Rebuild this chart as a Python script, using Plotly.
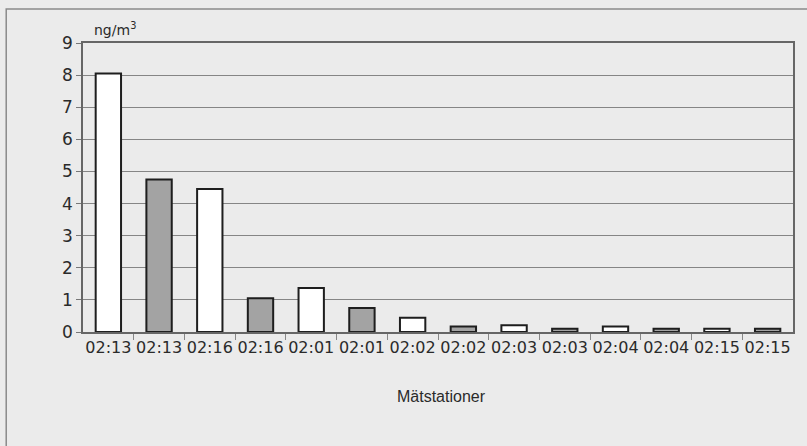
import plotly.graph_objects as go

STATIONS = ["02:13", "02:13", "02:16", "02:16", "02:01", "02:01", "02:02",
            "02:02", "02:03", "02:03", "02:04", "02:04", "02:15", "02:15"]
VALUES = [8.05, 4.75, 4.45, 1.05, 1.37, 0.75, 0.44,
          0.17, 0.21, 0.1, 0.17, 0.1, 0.1, 0.1]
Y_TICKS = [0, 1, 2, 3, 4, 5, 6, 7, 8, 9]

BG = "#ebebeb"
GRID = "#858585"
TEXT = "#2a2a2a"
FILLS = ["#ffffff", "#a3a3a3"]

W, H = 807, 446
L, R, T, B = 83, 12, 43, 114
PH = H - T - B
PW = W - L - R


def py(p):
    # pixel row -> paper y
    return (H - B - p) / PH


def px(p):
    return (p - L) / PW


idx = list(range(len(STATIONS)))
colors = [FILLS[i % 2] for i in idx]

fig = go.Figure(go.Bar(
    x=idx, y=VALUES, width=0.5,
    marker=dict(color=colors, line=dict(color="#1e1e1e", width=2)),
    hovertemplate="%{y:.2f} ng/m³<extra></extra>",
))

fig.update_layout(
    width=W, height=H,
    paper_bgcolor=BG, plot_bgcolor=BG,
    margin=dict(l=L, r=R, t=T, b=B),
    showlegend=False,
    font=dict(family="DejaVu Sans", color=TEXT),
    xaxis=dict(
        range=[-0.5, len(STATIONS) - 0.5],
        tickmode="array", tickvals=idx, ticktext=STATIONS,
        ticks="", tickfont=dict(size=16, color=TEXT),
        showgrid=False, zeroline=False,
        showline=True, linecolor="#666", linewidth=1.5, mirror=True,
        minor=dict(tickmode="array", tickvals=[i + 0.5 for i in idx[:-1]],
                   ticks="outside", ticklen=6, tickcolor="#888", showgrid=False),
    ),
    yaxis=dict(
        range=[0, 9], tickmode="array", tickvals=Y_TICKS,
        ticks="outside", ticklen=5, tickcolor="#777",
        tickfont=dict(size=17, color=TEXT),
        showgrid=True, gridcolor=GRID, gridwidth=1,
        zeroline=False,
        showline=True, linecolor="#666", linewidth=1.5, mirror=True,
    ),
)

# unit label and axis title
fig.add_annotation(text="ng/m<sup>3</sup>", xref="paper", yref="paper",
                   x=px(92), y=py(29), xanchor="left", yanchor="middle",
                   showarrow=False, font=dict(size=14, color=TEXT))
fig.add_annotation(text="Mätstationer", xref="paper", yref="paper",
                   x=px(443), y=py(396), xanchor="center", yanchor="middle",
                   showarrow=False, font=dict(family="Liberation Sans", size=16, color=TEXT))

# outer frame of the figure box
fig.add_shape(type="rect", xref="paper", yref="paper",
              x0=px(6), x1=px(812), y0=py(452), y1=py(9),
              line=dict(color="#8a8a8a", width=1.5), layer="below")

# drop the default page margin so the figure sits at the window corner
fig.write_html("out.html", config={"displayModeBar": False},
               post_script="document.body.style.margin='0';")
